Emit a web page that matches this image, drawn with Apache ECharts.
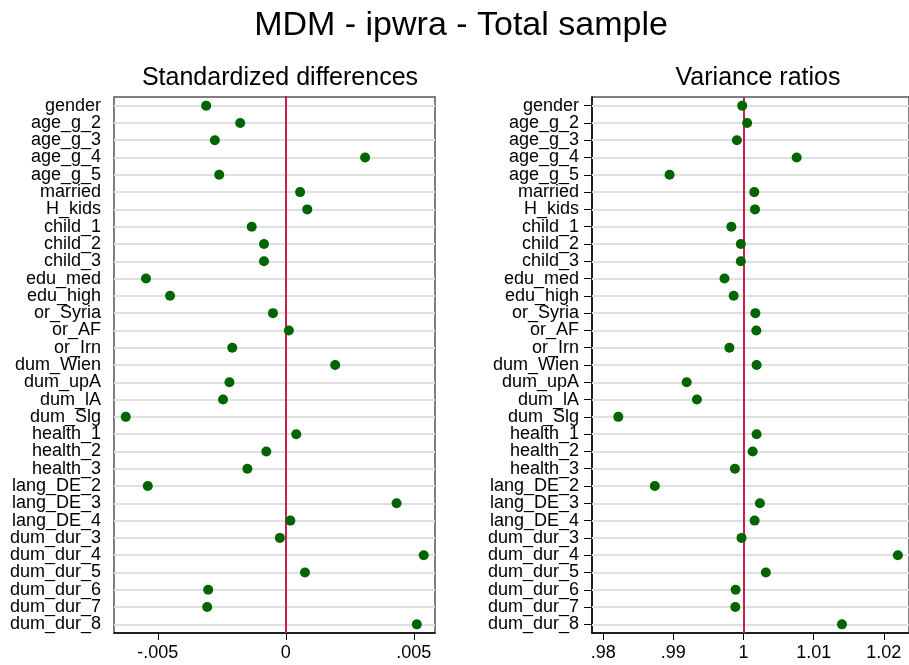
<!DOCTYPE html>
<html>
<head>
<meta charset="utf-8">
<script src="https://cdn.jsdelivr.net/npm/echarts@6/dist/echarts.min.js"></script>
<style>
html,body{margin:0;padding:0;background:#fff;}
#chart{width:909px;height:665px;}
</style>
</head>
<body>
<div id="chart"></div>
<script>
const categories = ['gender','age_g_2','age_g_3','age_g_4','age_g_5','married','H_kids','child_1','child_2','child_3','edu_med','edu_high','or_Syria','or_AF','or_Irn','dum_Wien','dum_upA','dum_lA','dum_Slg','health_1','health_2','health_3','lang_DE_2','lang_DE_3','lang_DE_4','dum_dur_3','dum_dur_4','dum_dur_5','dum_dur_6','dum_dur_7','dum_dur_8'];
const stdDiff = [-0.00311,-0.00178,-0.00277,0.00310,-0.00260,0.00056,0.00084,-0.00133,-0.00085,-0.00085,-0.00546,-0.00452,-0.00050,0.00012,-0.00209,0.00193,-0.00220,-0.00245,-0.00625,0.00041,-0.00076,-0.00150,-0.00539,0.00433,0.00018,-0.00023,0.00539,0.00075,-0.00303,-0.00307,0.00512];
const varRatio = [0.99982,1.00052,0.99906,1.00758,0.98947,1.00154,1.00164,0.99827,0.99962,0.99962,0.99729,0.99860,1.00169,1.00183,0.99799,1.00187,0.99190,0.99336,0.98216,1.00187,1.00131,0.99878,0.98736,1.00234,1.00159,0.99972,1.02200,1.00319,0.99888,0.99883,1.01404];
const sdTicks = [-0.005, 0, 0.005];
const vrTicks = [0.98, 0.99, 1, 1.01, 1.02];
const sdRef = 0;
const vrRef = 1;
const mainTitle = 'MDM - ipwra - Total sample';
const panelTitles = ['Standardized differences', 'Variance ratios'];

const FONT = '"Liberation Sans", Arial, Helvetica, sans-serif';
function fmt(v){
  let s = String(+v.toFixed(6));
  s = s.replace(/^0\./, '.').replace(/^-0\./, '-.');
  return s;
}
function xAxisCfg(gi, min, max, ticks){
  return {
    type: 'value', gridIndex: gi, min: min, max: max,
    splitLine: {show: false},
    axisLine: {show: true, onZero: false, lineStyle: {color: '#000', width: 1.5}},
    axisTick: {show: true, length: 7, customValues: ticks, lineStyle: {color: '#000', width: 1}},
    axisLabel: {show: true, customValues: ticks, formatter: fmt, fontSize: 18, color: '#000', fontFamily: FONT, margin: 11, showMinLabel: true, showMaxLabel: true}
  };
}
function yAxisCfg(gi){
  return {
    type: 'category', gridIndex: gi, data: categories, inverse: true,
    axisLine: {show: true, lineStyle: {color: '#000', width: 1.5}},
    axisTick: {show: true, alignWithLabel: true, length: 8, lineStyle: {color: '#000', width: 1}},
    axisLabel: {fontSize: 18, color: '#000', fontFamily: FONT, margin: 13, interval: 0},
    splitLine: {show: false}
  };
}
function seriesCfg(gi, vals, ref){
  return {
    type: 'scatter', xAxisIndex: gi, yAxisIndex: gi,
    data: vals.map((v, i) => [v, categories[i]]),
    symbol: 'circle', symbolSize: 10,
    itemStyle: {color: '#006400', opacity: 1},
    z: 5,
    markLine: {
      silent: true, symbol: 'none', animation: false,
      label: {show: false},
      data: categories.map(c => ({yAxis: c, lineStyle: {color: '#e0e0e0', width: 2, type: 'solid'}}))
        .concat([{xAxis: ref, lineStyle: {color: '#d01c4b', width: 2, type: 'solid'}}])
    }
  };
}

const chart = echarts.init(document.getElementById('chart'), null, {renderer: 'canvas'});
chart.setOption({
  backgroundColor: '#fff',
  animation: false,
  textStyle: {fontFamily: FONT},
  title: [
    {text: mainTitle, left: 456, top: 4, textAlign: 'center', textStyle: {fontSize: 34, fontWeight: 'normal', color: '#000', fontFamily: FONT}},
    {text: panelTitles[0], left: 275, top: 61, textAlign: 'center', textStyle: {fontSize: 25, fontWeight: 'normal', color: '#000', fontFamily: FONT}},
    {text: panelTitles[1], left: 753, top: 61, textAlign: 'center', textStyle: {fontSize: 25, fontWeight: 'normal', color: '#000', fontFamily: FONT}}
  ],
  grid: [
    {left: 114, top: 97, width: 321, height: 536, show: true, borderColor: '#555', borderWidth: 1.5, backgroundColor: 'transparent', containLabel: false},
    {left: 592, top: 97, width: 321, height: 536, show: true, borderColor: '#555', borderWidth: 1.5, backgroundColor: 'transparent', containLabel: false}
  ],
  xAxis: [
    xAxisCfg(0, -0.00671, 0.00583, sdTicks),
    xAxisCfg(1, 0.97841, 1.02359, vrTicks)
  ],
  yAxis: [yAxisCfg(0), yAxisCfg(1)],
  series: [seriesCfg(0, stdDiff, sdRef), seriesCfg(1, varRatio, vrRef)]
});
</script>
</body>
</html>
